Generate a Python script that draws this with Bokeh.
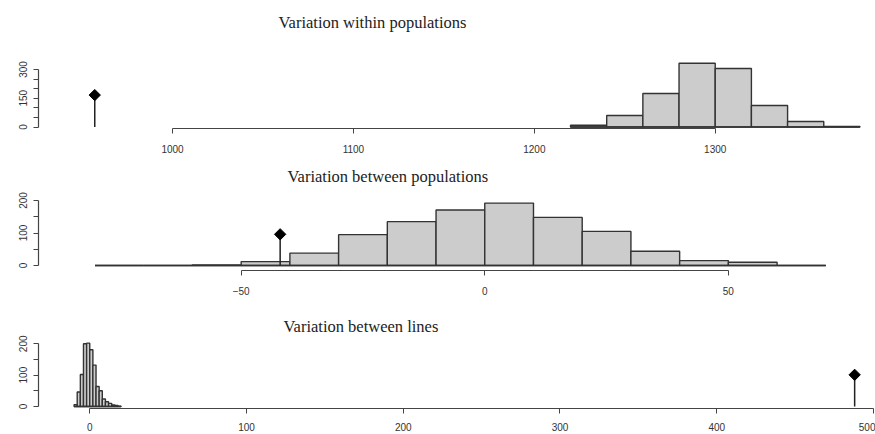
import numpy as np
from bokeh.plotting import figure
from bokeh.layouts import column
from bokeh.models import Range1d, FixedTicker
from bokeh.embed import file_html
from bokeh.resources import INLINE

# ---------------- data ----------------
within_title = "Variation within populations"
within_left = [1220, 1240, 1260, 1280, 1300, 1320, 1340, 1360]
within_right = [1240, 1260, 1280, 1300, 1320, 1340, 1360, 1380]
within_counts = [9, 60, 175, 333, 305, 112, 29, 3]
within_obs = 957
within_xticks = [1000, 1100, 1200, 1300]
within_yticks = [0, 50, 100, 150, 200, 250, 300]
within_ylabels = ["0", "", "", "150", "", "", "300"]

betpop_title = "Variation between populations"
betpop_left = [-80, -70, -60, -50, -40, -30, -20, -10, 0, 10, 20, 30, 40, 50, 60]
betpop_right = [-70, -60, -50, -40, -30, -20, -10, 0, 10, 20, 30, 40, 50, 60, 70]
betpop_counts = [0, 0, 2, 12, 38, 95, 135, 171, 192, 148, 105, 44, 15, 10, 0]
betpop_obs = -42
betpop_xticks = [-50, 0, 50]
betpop_yticks = [0, 50, 100, 150, 200]
betpop_ylabels = ["0", "", "100", "", "200"]

lines_title = "Variation between lines"
lines_left = [-10, -8, -6, -4, -2, 0, 2, 4, 6, 8, 10, 12, 14, 16, 18]
lines_right = [-8, -6, -4, -2, 0, 2, 4, 6, 8, 10, 12, 14, 16, 18, 20]
lines_counts = [6, 46, 102, 200, 202, 181, 132, 64, 50, 24, 15, 10, 5, 3, 1]
lines_obs = 488
lines_xticks = [0, 100, 200, 300, 400, 500]
lines_yticks = [0, 50, 100, 150, 200]
lines_ylabels = ["0", "", "100", "", "200"]

BAR_FILL = "#cccccc"
BAR_LINE = "#333333"
AXIS_COL = "#444444"
TEXT_COL = "#333333"


def panel(title, left, right, counts, obs, xticks, yticks, ylabels,
          xr, yr, frame_h, b_top, b_bottom, t_offset, t_standoff, xlab_standoff):
    p = figure(frame_width=837, frame_height=frame_h,
               x_range=Range1d(*xr), y_range=Range1d(*yr),
               output_backend="svg", toolbar_location=None, title=title,
               min_border_left=38, min_border_right=0,
               min_border_top=b_top, min_border_bottom=b_bottom)
    p.outline_line_color = None
    p.grid.visible = False
    p.background_fill_color = "white"
    p.border_fill_color = "white"

    p.title.align = "left"
    p.title.offset = t_offset
    p.title.standoff = t_standoff
    p.title.text_font = "Liberation Serif"
    p.title.text_font_size = "16.5px"
    p.title.text_font_style = "normal"
    p.title.text_color = "#222222"

    # histogram bars
    p.quad(left=left, right=right, bottom=0, top=counts,
           fill_color=BAR_FILL, line_color=BAR_LINE, line_width=1.4)
    # bottom edges (visible also for empty classes)
    p.segment(x0=left, x1=right, y0=0, y1=0, line_color=BAR_LINE, line_width=1.4)

    # observed value
    y_obs = max(counts) / 2
    p.segment(x0=[obs], x1=[obs], y0=[0], y1=[y_obs], line_color="#222222", line_width=1.5)
    p.scatter([obs], [y_obs], marker="square", size=8, angle=np.pi / 4,
              fill_color="black", line_color="black")

    # x axis
    xa = p.xaxis[0]
    xa.ticker = FixedTicker(ticks=xticks)
    xa.bounds = (xticks[0], xticks[-1])
    xa.major_tick_out = 5
    xa.major_tick_in = 0
    xa.minor_tick_line_color = None
    xa.axis_line_color = AXIS_COL
    xa.axis_line_width = 1.2
    xa.major_tick_line_color = AXIS_COL
    xa.major_label_text_font = "Liberation Sans"
    xa.major_label_text_font_size = "10px"
    xa.major_label_text_color = TEXT_COL
    xa.major_label_standoff = xlab_standoff

    # y axis
    ya = p.yaxis[0]
    ya.ticker = FixedTicker(ticks=yticks)
    ya.bounds = (yticks[0], yticks[-1])
    ya.major_label_overrides = {t: lab for t, lab in zip(yticks, ylabels)}
    ya.major_label_orientation = "vertical"
    ya.major_tick_out = 5
    ya.major_tick_in = 0
    ya.minor_tick_line_color = None
    ya.axis_line_color = AXIS_COL
    ya.axis_line_width = 1.2
    ya.major_tick_line_color = AXIS_COL
    ya.major_label_text_font = "Liberation Sans"
    ya.major_label_text_font_size = "10px"
    ya.major_label_text_color = TEXT_COL
    ya.major_label_standoff = 6
    return p


p1 = panel(within_title, within_left, within_right, within_counts, within_obs,
           within_xticks, within_yticks, within_ylabels,
           xr=(925.9, 1388.6), yr=(-7.8, 482.6), frame_h=94, b_top=34, b_bottom=28,
           t_offset=240, t_standoff=6, xlab_standoff=11)
p2 = panel(betpop_title, betpop_left, betpop_right, betpop_counts, betpop_obs,
           betpop_xticks, betpop_yticks, betpop_ylabels,
           xr=(-91.6, 80.2), yr=(-15.4, 230.8), frame_h=80, b_top=34, b_bottom=30,
           t_offset=249, t_standoff=10, xlab_standoff=11)
p3 = panel(lines_title, lines_left, lines_right, lines_counts, lines_obs,
           lines_xticks, lines_yticks, lines_ylabels,
           xr=(-32.7, 501.3), yr=(-6.4, 220.1), frame_h=71, b_top=37, b_bottom=26,
           t_offset=245, t_standoff=4, xlab_standoff=9)

layout = column(p1, p2, p3, spacing=0)
open("out.html", "w").write(file_html(layout, INLINE))
